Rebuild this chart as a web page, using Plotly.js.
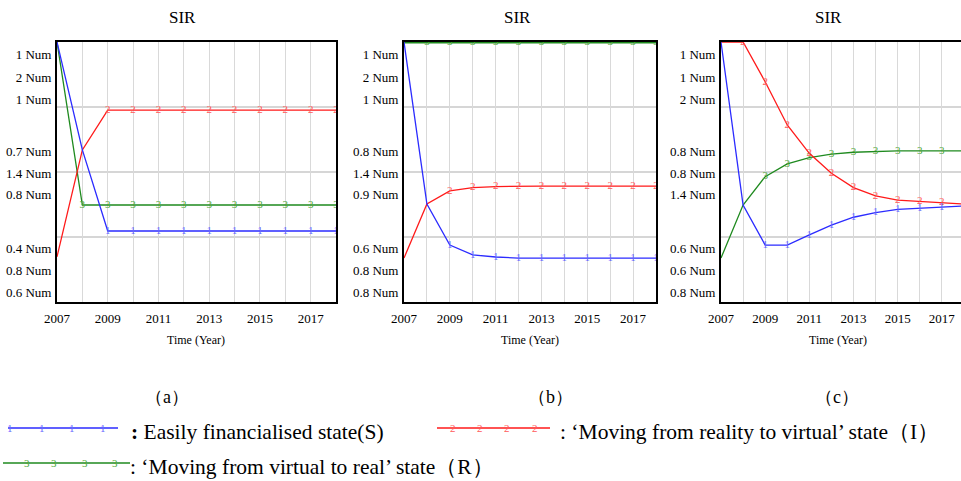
<!DOCTYPE html>
<html>
<head>
<meta charset="utf-8">
<script src="https://cdn.plot.ly/plotly-3.0.1.min.js"></script>
<style>html,body{margin:0;padding:0;background:#fff;}#chart{width:961px;height:481px;}</style>
</head>
<body>
<div id="chart"></div>
<script>
// ---------------- data ----------------
const years = [2007, 2008, 2009, 2010, 2011, 2012, 2013, 2014, 2015, 2016, 2017, 2018];
const xTickText = ['2007', '', '2009', '', '2011', '', '2013', '', '2015', '', '2017', ''];

// panel (a)
const S_a = [1.0, 0.585, 0.273, 0.273, 0.273, 0.273, 0.273, 0.273, 0.273, 0.273, 0.273, 0.273];
const I_a = [0.174, 0.585, 0.738, 0.738, 0.738, 0.738, 0.738, 0.738, 0.738, 0.738, 0.738, 0.738];
const R_a = [1.0, 0.373, 0.373, 0.373, 0.373, 0.373, 0.373, 0.373, 0.373, 0.373, 0.373, 0.373];

// panel (b)
const S_b = [1.0, 0.377, 0.219, 0.181, 0.173, 0.169, 0.169, 0.169, 0.169, 0.169, 0.169, 0.169];
const I_b = [0.169, 0.377, 0.427, 0.440, 0.444, 0.446, 0.446, 0.446, 0.446, 0.446, 0.446, 0.446];
const R_b = [1.0, 1.0, 1.0, 1.0, 1.0, 1.0, 1.0, 1.0, 1.0, 1.0, 1.0, 1.0];

// panel (c)
const S_c = [1.0, 0.373, 0.219, 0.219, 0.258, 0.296, 0.326, 0.344, 0.356, 0.360, 0.364, 0.369];
const I_c = [1.0, 1.0, 0.847, 0.681, 0.572, 0.495, 0.440, 0.408, 0.392, 0.387, 0.383, 0.377];
const R_c = [0.169, 0.373, 0.482, 0.531, 0.555, 0.569, 0.576, 0.579, 0.581, 0.581, 0.581, 0.581];

// y tick labels (Vensim stacked scales), top to bottom
const yTickVals = [0.954, 0.864, 0.780, 0.578, 0.495, 0.412, 0.206, 0.123, 0.036];
const yTickText_a = ['1 Num', '2 Num', '1 Num', '0.7 Num', '1.4 Num', '0.8 Num', '0.4 Num', '0.8 Num', '0.6 Num'];
const yTickText_b = ['1 Num', '2 Num', '1 Num', '0.8 Num', '1.4 Num', '0.9 Num', '0.6 Num', '0.8 Num', '0.8 Num'];
const yTickText_c = ['1 Num', '1 Num', '2 Num', '0.8 Num', '0.8 Num', '1.4 Num', '0.6 Num', '0.6 Num', '0.8 Num'];
const gridVals = [0.25, 0.5, 0.75];

const panelTitle = 'SIR';
const xTitle = 'Time (Year)';
const captions = ['（a）', '（b）', '（c）'];
const legendS = '<b>:</b> Easily financialised state(S)';
const legendI = ': ‘Moving from reality to virtual’ state（I）';
const legendR = ': ‘Moving from virtual to real’ state（R）';

// ---------------- style ----------------
const FONT = '"Liberation Serif", "DejaVu Serif", "Times New Roman", serif';
const W = 961, H = 481;
const px = x => x / W;
const py = y => 1 - y / H;
const blue = '#2b2bff', red = '#ff1a1a', green = '#1f8a1f';
const blueM = '#6a6aff', redM = '#ff5a5a', greenM = '#4fa83a';

function marks(ch, from, to) { return years.map((y, i) => (i >= from && i <= to ? ch : '')); }

const panels = [
  { key: '', S: S_a, I: I_a, R: R_a, ytt: yTickText_a, x0: 57, x1: 336, xmax: 2018, mirrorY: true,
    mS: 2, mI: 2, mR: 1, last: 11, tx: 182, cx: 196 },
  { key: '2', S: S_b, I: I_b, R: R_b, ytt: yTickText_b, x0: 404, x1: 656, xmax: 2018, mirrorY: true,
    mS: 2, mI: 2, mR: 1, last: 11, tx: 517, cx: 530 },
  { key: '3', S: S_c, I: I_c, R: R_c, ytt: yTickText_c, x0: 721, x1: 961, xmax: 2017.87, mirrorY: false,
    mS: 2, mI: 1, mR: 2, last: 10, tx: 828, cx: 838 }
];

const traces = [];
const layout = {
  width: W, height: H, autosize: false,
  margin: { l: 0, r: 0, t: 0, b: 0 },
  paper_bgcolor: '#fff', plot_bgcolor: '#fff',
  showlegend: false,
  font: { family: FONT, color: '#000' },
  shapes: [], annotations: []
};

panels.forEach((p, idx) => {
  const xa = 'x' + p.key, ya = 'y' + p.key;
  const xName = 'xaxis' + p.key, yName = 'yaxis' + p.key;
  const mkTrace = (vals, color, mcolor, ch, from, w) => ({
    x: years, y: vals, xaxis: xa, yaxis: ya, type: 'scatter', mode: 'lines+text',
    line: { color: color, width: w || 1.3 },
    text: marks(ch, from, p.last), textposition: 'middle center',
    textfont: { family: FONT, size: 11, color: mcolor },
    hoverinfo: 'skip'
  });
  traces.push(mkTrace(p.R, green, greenM, '3', p.mR, idx === 1 ? 3 : 1.3));
  traces.push(mkTrace(p.I, red, redM, '2', p.mI));
  traces.push(mkTrace(p.S, blue, blueM, '1', p.mS));

  layout[xName] = {
    domain: [px(p.x0), px(p.x1)], anchor: ya, range: [2007, p.xmax],
    tickvals: years, ticktext: xTickText,
    showgrid: true, gridcolor: '#d9d9d9', gridwidth: 1,
    showline: true, linecolor: '#000', linewidth: 2, mirror: true,
    ticks: 'outside', ticklen: 3, tickcolor: 'rgba(0,0,0,0)',
    tickfont: { family: FONT, size: 13, color: '#000' },
    zeroline: false, fixedrange: true,
    layer: idx === 1 ? 'below traces' : 'above traces'
  };
  layout[yName] = {
    domain: [py(302), py(42)], anchor: xa, range: [0, 1],
    tickvals: yTickVals, ticktext: p.ytt,
    showgrid: false,
    showline: true, linecolor: '#000', linewidth: 2, mirror: p.mirrorY,
    ticks: 'outside', ticklen: 1, tickcolor: 'rgba(0,0,0,0)',
    tickfont: { family: FONT, size: 13, color: '#000' },
    zeroline: false, fixedrange: true
  };
  gridVals.forEach(g => {
    layout.shapes.push({ type: 'line', xref: xa + ' domain', yref: ya, x0: 0, x1: 1, y0: g, y1: g,
      line: { color: '#d6d6d6', width: 2 }, layer: 'below' });
  });
  layout.annotations.push({ text: panelTitle, xref: 'paper', yref: 'paper', x: px(p.tx), y: py(17.5),
    showarrow: false, xanchor: 'center', yanchor: 'middle', font: { family: FONT, size: 17, color: '#000' } });
  layout.annotations.push({ text: xTitle, xref: 'paper', yref: 'paper', x: px(p.cx), y: py(340),
    showarrow: false, xanchor: 'center', yanchor: 'middle', font: { family: FONT, size: 12, color: '#000' } });
});

// captions
[[167, captions[0]], [550, captions[1]], [837, captions[2]]].forEach(c => {
  layout.annotations.push({ text: c[1], xref: 'paper', yref: 'paper', x: px(c[0]), y: py(397),
    showarrow: false, xanchor: 'center', yanchor: 'middle', font: { family: FONT, size: 18, color: '#000' } });
});

// legend samples
function legendSample(xa, xb, y, color, mcolor, ch, mx) {
  layout.shapes.push({ type: 'line', xref: 'paper', yref: 'paper', x0: px(xa), x1: px(xb), y0: py(y), y1: py(y),
    line: { color: color, width: 1.5 } });
  mx.forEach(m => layout.annotations.push({ text: ch, xref: 'paper', yref: 'paper', x: px(m), y: py(y),
    showarrow: false, xanchor: 'center', yanchor: 'middle', font: { family: FONT, size: 11, color: mcolor } }));
}
legendSample(8, 118, 428, blue, blueM, '1', [10, 42, 72, 103]);
legendSample(437, 550, 428, red, redM, '2', [453, 480, 507, 535]);
legendSample(3, 130, 463, green, greenM, '3', [27, 54, 85, 115]);

function legendText(x, y, t) {
  layout.annotations.push({ text: t, xref: 'paper', yref: 'paper', x: px(x), y: py(y),
    showarrow: false, xanchor: 'left', yanchor: 'middle', font: { family: FONT, size: 21.5, color: '#000' } });
}
legendText(129, 432, legendS);
legendText(558, 432, legendI);
legendText(128, 467, legendR);

Plotly.newPlot('chart', traces, layout, { staticPlot: true, displayModeBar: false });
</script>
</body>
</html>
